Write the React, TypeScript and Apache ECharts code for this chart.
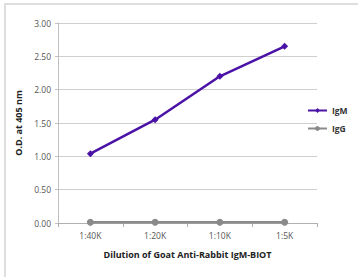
import React, { useEffect, useRef } from "react";
import * as echarts from "echarts";

const categories = ["1:40K", "1:20K", "1:10K", "1:5K"];
const igmValues = [1.04, 1.55, 2.2, 2.65];
const iggValues = [0.01, 0.01, 0.01, 0.01];
const seriesNames = ["IgM", "IgG"];

export default function App() {
  const ref = useRef<HTMLDivElement>(null);
  useEffect(() => {
    if (!ref.current) return;
    const chart = echarts.init(ref.current, null, { renderer: "svg" });
    const font = "'Open Sans', 'Noto Sans', sans-serif";
    chart.setOption({
      animation: false,
      backgroundColor: "#ffffff",
      textStyle: { fontFamily: font },
      graphic: [
        {
          type: "rect",
          shape: { x: 5, y: 4, width: 400, height: 300 },
          style: { fill: "none", stroke: "#dedede", lineWidth: 2 },
          silent: true,
        },
      ],
      grid: { left: 58, right: 41, top: 23, bottom: 54 },
      legend: {
        orient: "vertical",
        left: 307,
        top: 106,
        padding: 0,
        itemWidth: 19,
        itemHeight: 6,
        itemGap: 9,
        textStyle: { fontSize: 8.5, fontWeight: "bold", color: "#333", fontFamily: font },
        data: seriesNames,
      },
      xAxis: {
        type: "category",
        data: categories,
        boundaryGap: true,
        name: "Dilution of Goat Anti-Rabbit IgM-BIOT",
        nameLocation: "middle",
        nameGap: 27,
        nameTextStyle: { fontSize: 9, fontWeight: "bold", color: "#222", fontFamily: font },
        axisLine: { lineStyle: { color: "#b0b0b0", width: 1 } },
        axisTick: { show: true, length: 4, lineStyle: { color: "#b0b0b0" } },
        axisLabel: { fontSize: 8.5, color: "#555", margin: 8, fontFamily: font },
      },
      yAxis: {
        type: "value",
        min: 0,
        max: 3,
        interval: 0.5,
        name: "O.D. at 405 nm",
        nameLocation: "middle",
        nameGap: 33,
        nameTextStyle: { fontSize: 9, fontWeight: "bold", color: "#222", fontFamily: font },
        axisLine: { show: true, lineStyle: { color: "#c0c0c0" } },
        axisTick: { show: true, length: 3, lineStyle: { color: "#c0c0c0" } },
        splitLine: { lineStyle: { color: "#cfcfcf", width: 1 } },
        axisLabel: {
          fontSize: 8.5,
          color: "#555",
          margin: 7,
          fontFamily: font,
          formatter: (v: number) => v.toFixed(2),
        },
      },
      series: [
        {
          name: seriesNames[0],
          type: "line",
          data: igmValues,
          symbol: "diamond",
          symbolSize: 7,
          lineStyle: { color: "#4a12a6", width: 2.5 },
          itemStyle: { color: "#4a12a6" },
        },
        {
          name: seriesNames[1],
          type: "line",
          data: iggValues,
          symbol: "circle",
          symbolSize: 7,
          lineStyle: { color: "#8a8a8a", width: 2.5 },
          itemStyle: { color: "#8a8a8a" },
        },
      ],
    });
    return () => chart.dispose();
  }, []);
  return (
    <div
      ref={ref}
      style={{ position: "fixed", left: 0, top: 0, width: 358, height: 277 }}
    />
  );
}
